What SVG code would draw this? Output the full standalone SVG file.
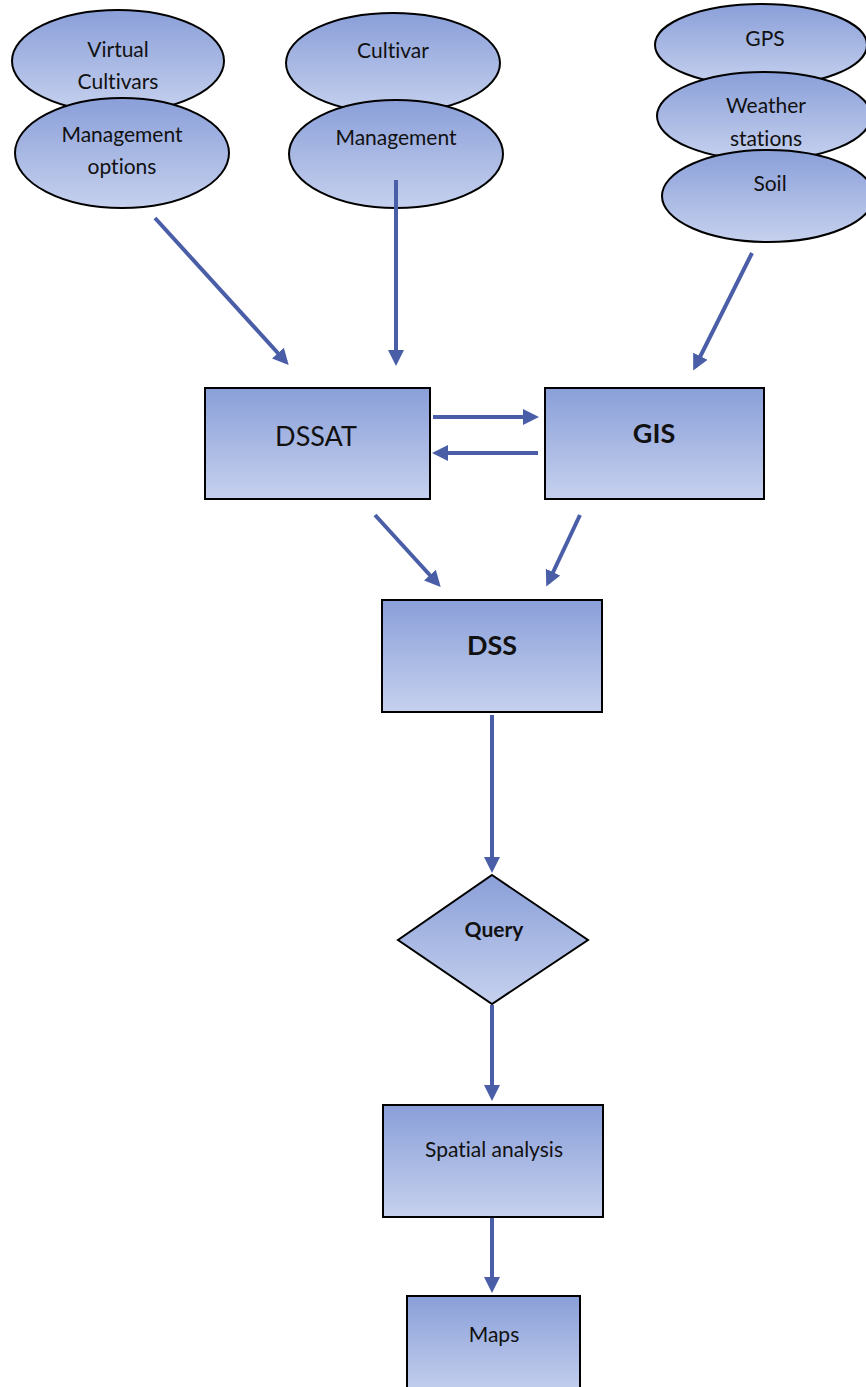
<svg xmlns="http://www.w3.org/2000/svg" width="866" height="1387" viewBox="0 0 866 1387">
<defs>
<linearGradient id="g" x1="0" y1="0" x2="0" y2="1">
<stop offset="0" stop-color="#8a9fd9"/>
<stop offset="1" stop-color="#c6d1ee"/>
</linearGradient>
<marker id="ah" markerWidth="4" markerHeight="4" refX="3" refY="2" orient="auto" markerUnits="strokeWidth">
<path d="M0,0 L4,2 L0,4 z" fill="#4a5ea8"/>
</marker>
<style>
.s{fill:url(#g);stroke:#000;stroke-width:2}
.t{font-family:Lato,"Open Sans",sans-serif;fill:#111;text-anchor:middle;font-variant-ligatures:none;font-feature-settings:"liga" 0,"clig" 0}
.m{font-size:21px}
.c{stroke:#4a5ea8;stroke-width:4;fill:none;marker-end:url(#ah)}
</style>
</defs>
<rect width="866" height="1387" fill="#fff"/>
<g id="virtual-cultivars"><ellipse class="s" cx="118" cy="61" rx="106" ry="51"/><text class="t m" x="118" y="57">Virtual</text><text class="t m" x="118" y="89">Cultivars</text></g>
<g id="management-options"><ellipse class="s" cx="122" cy="153" rx="107" ry="55"/><text class="t m" x="122" y="142">Management</text><text class="t m" x="122" y="174">options</text></g>
<g id="cultivar"><ellipse class="s" cx="393" cy="63" rx="107" ry="50"/><text class="t m" x="393" y="58">Cultivar</text></g>
<g id="management"><ellipse class="s" cx="396" cy="154" rx="107" ry="54"/><text class="t m" x="396" y="145">Management</text></g>
<g id="gps"><ellipse class="s" cx="761" cy="45" rx="106" ry="41"/><text class="t m" x="765" y="46">GPS</text></g>
<g id="weather"><ellipse class="s" cx="764" cy="116" rx="107" ry="44"/><text class="t m" x="766" y="113">Weather</text><text class="t m" x="766" y="146">stations</text></g>
<g id="soil"><ellipse class="s" cx="768" cy="196" rx="106" ry="46"/><text class="t m" x="770" y="191">Soil</text></g>
<g id="dssat"><rect class="s" x="205" y="388" width="225" height="111"/><text class="t" x="316" y="446" font-size="27">DSSAT</text></g>
<g id="gis"><rect class="s" x="545" y="388" width="219" height="111"/><text class="t" x="654" y="443" font-size="27" font-weight="bold">GIS</text></g>
<g id="dss"><rect class="s" x="382" y="600" width="220" height="112"/><text class="t" x="492" y="655" font-size="27" font-weight="bold">DSS</text></g>
<g id="query"><polygon class="s" points="492,875 588,940 492,1004 398,940"/><text class="t m" x="494" y="937" font-weight="bold">Query</text></g>
<g id="spatial"><rect class="s" x="383" y="1105" width="220" height="112"/><text class="t m" x="494" y="1157">Spatial analysis</text></g>
<g id="maps"><rect class="s" x="407" y="1296" width="173" height="100"/><text class="t m" x="494" y="1342">Maps</text></g>
<g id="connectors">
<line class="c" x1="155" y1="218" x2="286" y2="362"/>
<line class="c" x1="396" y1="180" x2="396" y2="362"/>
<line class="c" x1="752" y1="253" x2="695" y2="367"/>
<line class="c" x1="433" y1="417" x2="535" y2="417"/>
<line class="c" x1="538" y1="453" x2="436" y2="453"/>
<line class="c" x1="375" y1="515" x2="438" y2="584"/>
<line class="c" x1="580" y1="515" x2="548" y2="583"/>
<line class="c" x1="492" y1="715" x2="492" y2="869"/>
<line class="c" x1="492" y1="1005" x2="492" y2="1097"/>
<line class="c" x1="492" y1="1218" x2="492" y2="1289"/>
</g>
</svg>
